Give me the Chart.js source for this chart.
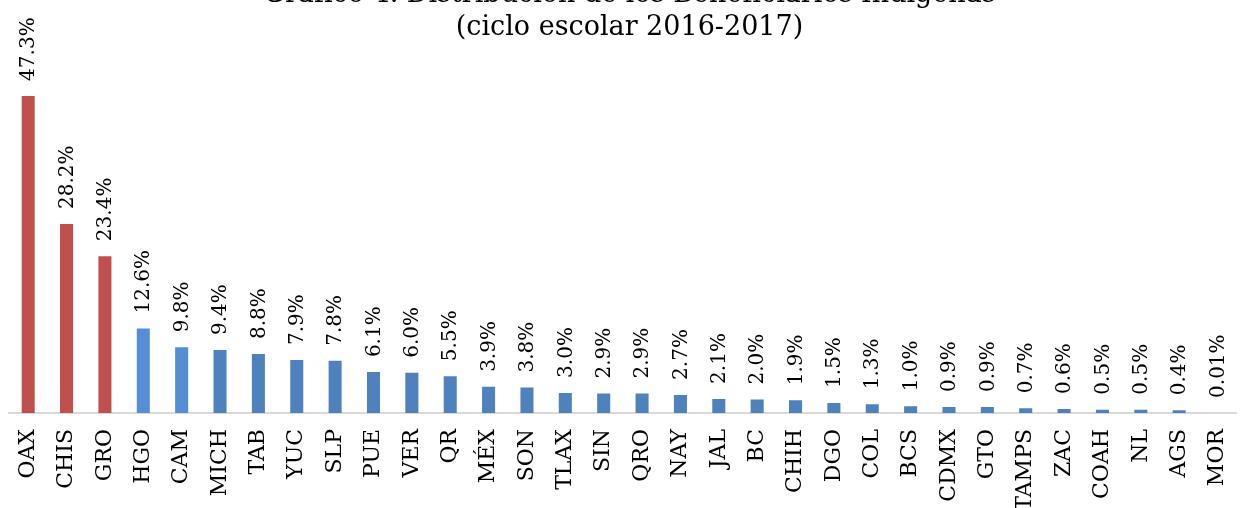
<!DOCTYPE html>
<html lang="es">
<head>
<meta charset="utf-8">
<script src="https://cdn.jsdelivr.net/npm/chart.js@4.4.1/dist/chart.umd.min.js"></script>
<style>
  html, body { margin: 0; padding: 0; background: #fff; overflow: hidden; }
  #wrap { width: 1252px; height: 530px; margin-top: -22px; }
</style>
</head>
<body>
<div id="wrap"><canvas id="beneficiariosChart"></canvas></div>
<script>
// Estados (abreviaturas)
const estados = ["OAX", "CHIS", "GRO", "HGO", "CAM", "MICH", "TAB", "YUC", "SLP", "PUE", "VER", "QR",
  "MÉX", "SON", "TLAX", "SIN", "QRO", "NAY", "JAL", "BC", "CHIH", "DGO", "COL", "BCS",
  "CDMX", "GTO", "TAMPS", "ZAC", "COAH", "NL", "AGS", "MOR"];

// Porcentaje de beneficiarios indígenas
const porcentajes = [47.3, 28.2, 23.4, 12.6, 9.8, 9.4, 8.8, 7.9, 7.8, 6.1, 6.0, 5.5,
  3.9, 3.8, 3.0, 2.9, 2.9, 2.7, 2.1, 2.0, 1.9, 1.5, 1.3, 1.0,
  0.9, 0.9, 0.7, 0.6, 0.5, 0.5, 0.4, 0.01];

// Etiquetas de valor tal como aparecen
const etiquetas = ["47.3%", "28.2%", "23.4%", "12.6%", "9.8%", "9.4%", "8.8%", "7.9%", "7.8%", "6.1%", "6.0%", "5.5%",
  "3.9%", "3.8%", "3.0%", "2.9%", "2.9%", "2.7%", "2.1%", "2.0%", "1.9%", "1.5%", "1.3%", "1.0%",
  "0.9%", "0.9%", "0.7%", "0.6%", "0.5%", "0.5%", "0.4%", "0.01%"];

// Colores: rojo para los tres primeros, azul claro para HGO y CAM
const rojo = "#C0504D";
const azulClaro = "#558ED5";
const azul = "#4F81BD";
const colores = estados.map((e, i) => i < 3 ? rojo : (i < 5 ? azulClaro : azul));

const serif = "'DejaVu Serif', Georgia, serif";

// Plugin para escribir las etiquetas giradas encima de cada barra
const etiquetasBarras = {
  id: "etiquetasBarras",
  afterDatasetsDraw(chart) {
    const ctx = chart.ctx;
    const meta = chart.getDatasetMeta(0);
    ctx.save();
    ctx.font = "20px " + serif;
    ctx.fillStyle = "#000";
    ctx.textAlign = "left";
    ctx.textBaseline = "middle";
    meta.data.forEach((bar, i) => {
      ctx.save();
      ctx.translate(bar.x + 1, bar.y - 15);
      ctx.rotate(-Math.PI / 2);
      ctx.fillText(etiquetas[i], 0, 0);
      ctx.restore();
    });
    ctx.restore();
  }
};

const ctx = document.getElementById("beneficiariosChart").getContext("2d");

new Chart(ctx, {
  type: "bar",
  data: {
    labels: estados,
    datasets: [{
      label: "Beneficiarios indígenas",
      data: porcentajes,
      backgroundColor: colores,
      borderWidth: 0,
      categoryPercentage: 1,
      barPercentage: 0.34
    }]
  },
  options: {
    responsive: true,
    maintainAspectRatio: false,
    animation: false,
    layout: { padding: { left: 9, right: 2, top: 0, bottom: 0 } },
    scales: {
      x: {
        grid: { display: false },
        border: { color: "#D9D9D9", width: 2 },
        ticks: {
          color: "#000",
          font: { family: serif, size: 22 },
          minRotation: 90,
          maxRotation: 90,
          padding: 8,
          autoSkip: false
        },
        afterFit(scale) { scale.height = 95; }
      },
      y: {
        display: false,
        min: 0,
        max: 50
      }
    },
    plugins: {
      legend: { display: false },
      tooltip: { enabled: false },
      title: {
        display: true,
        text: ["Gráfico 4. Distribución de los Beneficiarios Indígenas", "(ciclo escolar 2016-2017)"],
        color: "#000",
        font: { family: serif, size: 27, weight: "normal", lineHeight: 1.2 },
        padding: { top: 1, bottom: 34 }
      }
    }
  },
  plugins: [etiquetasBarras]
});
</script>
</body>
</html>
